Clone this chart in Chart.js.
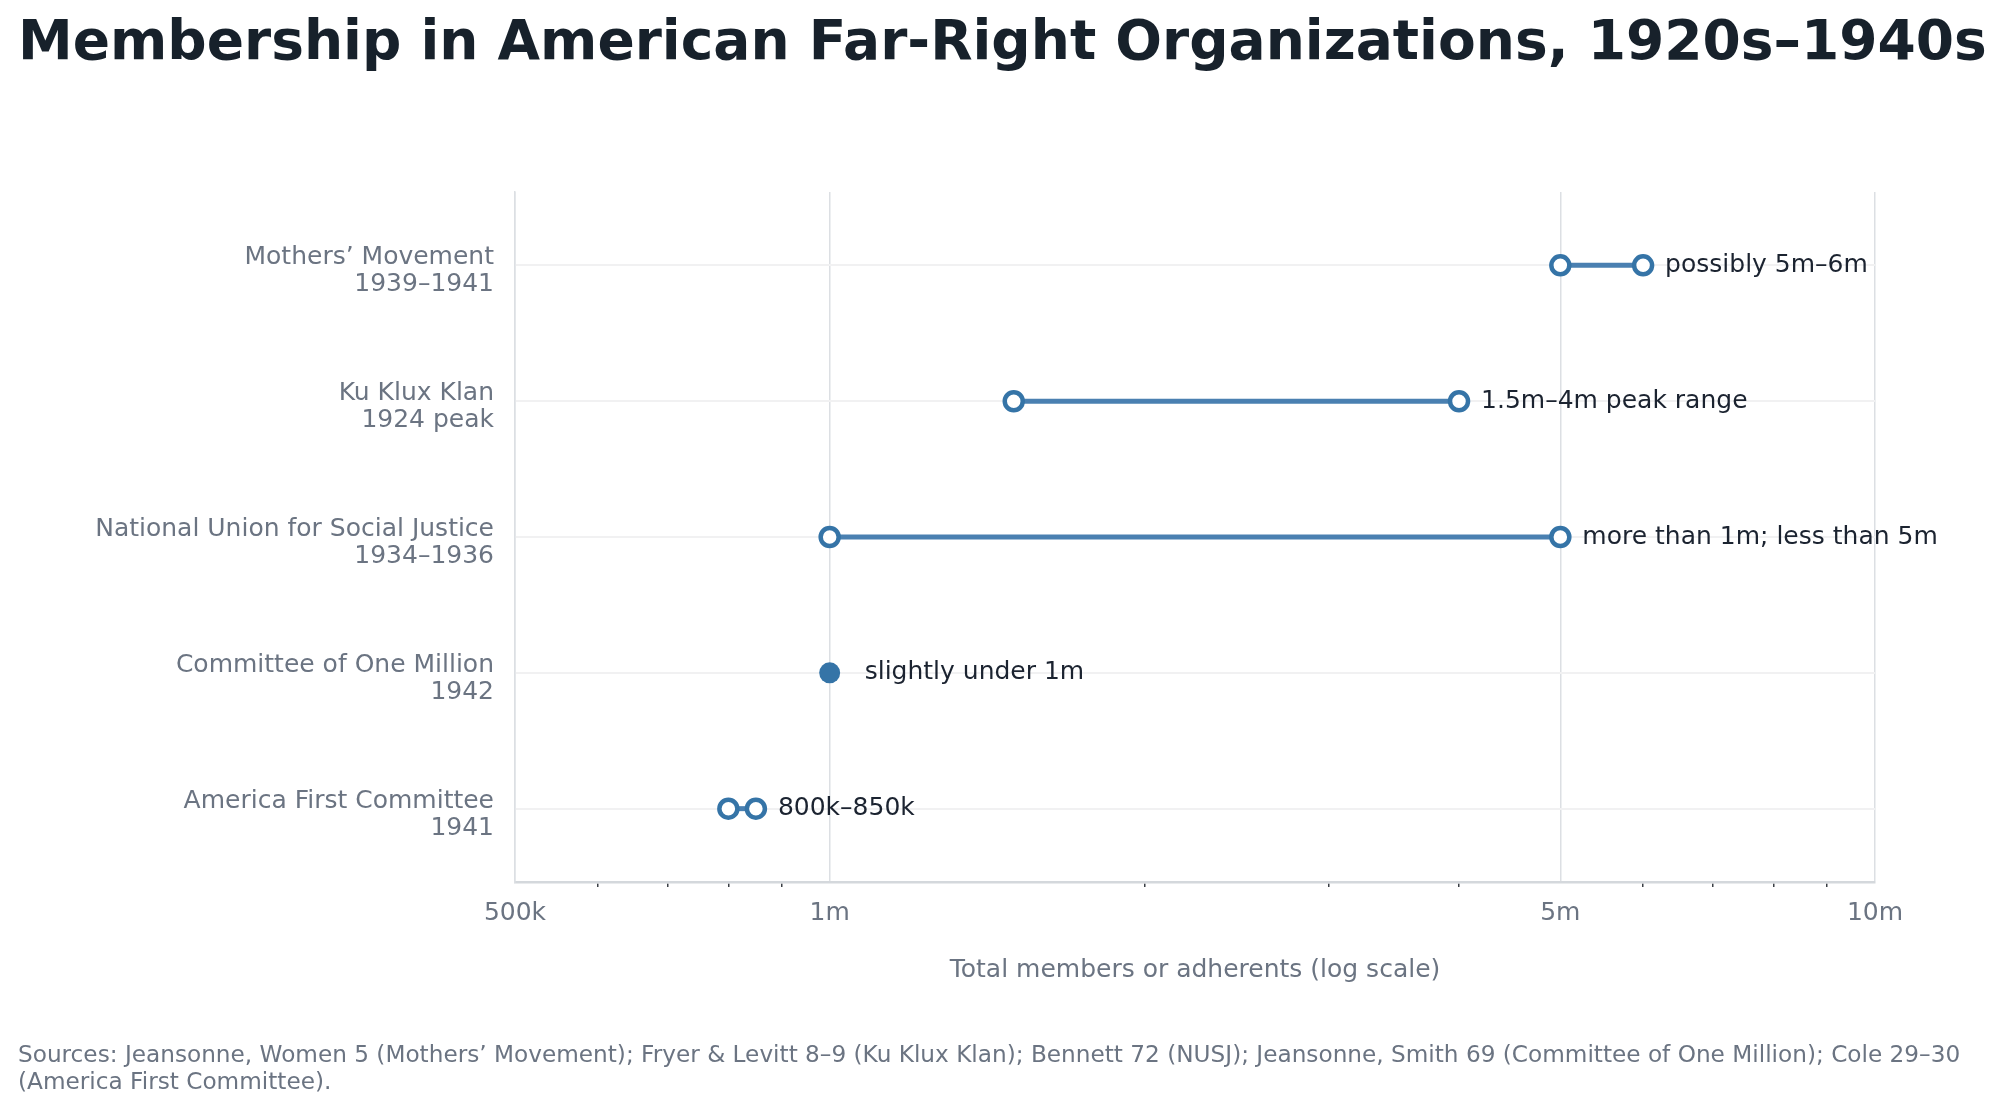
<!DOCTYPE html>
<html>
<head>
<meta charset="utf-8">
<script src="https://cdn.jsdelivr.net/npm/chart.js@4.4.1/dist/chart.umd.min.js"></script>
<style>
  html, body { margin: 0; padding: 0; background: #ffffff; }
  #wrap { width: 2005px; height: 1110px; }
</style>
</head>
<body>
<div id="wrap"><canvas id="chart" width="2005" height="1110"></canvas></div>
<script>
// Datos del gráfico
const categories = [
  ['Mothers’ Movement', '1939–1941'],
  ['Ku Klux Klan', '1924 peak'],
  ['National Union for Social Justice', '1934–1936'],
  ['Committee of One Million', '1942'],
  ['America First Committee', '1941']
];
const lowValues = [5000000, 1500000, 1000000, 1000000, 800000];
const highValues = [6000000, 4000000, 5000000, null, 850000];  // null = un solo valor
const rangeLabels = [
  'possibly 5m–6m',
  '1.5m–4m peak range',
  'more than 1m; less than 5m',
  'slightly under 1m',
  '800k–850k'
];
const majorTicks = [500000, 1000000, 5000000, 10000000];
const majorTickLabels = ['500k', '1m', '5m', '10m'];
const minorTicks = [600000, 700000, 800000, 900000, 2000000, 3000000, 4000000, 6000000, 7000000, 8000000, 9000000];
const sourceLines = [
  'Sources: Jeansonne, Women 5 (Mothers’ Movement); Fryer & Levitt 8–9 (Ku Klux Klan); Bennett 72 (NUSJ); Jeansonne, Smith 69 (Committee of One Million); Cole 29–30',
  '(America First Committee).'
];

const markerColor = '#3574a7';
const lineColor = '#4a80b1';
const gray = '#6b7482';
const dark = '#1b2330';

Chart.defaults.font.family = '"DejaVu Sans", sans-serif';

// Una serie por organización: extremo bajo y extremo alto
const datasets = categories.map((cat, i) => {
  const single = highValues[i] === null;
  const pts = single
    ? [{ x: lowValues[i], y: i }]
    : [{ x: lowValues[i], y: i }, { x: highValues[i], y: i }];
  return {
    data: pts,
    showLine: true,
    borderColor: lineColor,
    borderWidth: 5,
    pointRadius: single ? 10.5 : 9,
    pointBorderWidth: single ? 0 : 4.5,
    pointBackgroundColor: single ? markerColor : '#ffffff',
    pointBorderColor: markerColor,
    pointHoverRadius: single ? 10.5 : 9,
    clip: false
  };
});

// Etiquetas de texto a la derecha de cada rango
const rangeLabelPlugin = {
  id: 'rangeLabels',
  afterDatasetsDraw(chart) {
    const { ctx, scales: { x, y } } = chart;
    ctx.save();
    ctx.font = '25px "DejaVu Sans"';
    ctx.fillStyle = dark;
    ctx.textAlign = 'left';
    ctx.textBaseline = 'middle';
    rangeLabels.forEach((txt, i) => {
      const single = highValues[i] === null;
      const end = single ? lowValues[i] : highValues[i];
      ctx.fillText(txt, x.getPixelForValue(end) + (single ? 35 : 22), y.getPixelForValue(i));
    });
    ctx.restore();
  }
};

const config = {
  type: 'scatter',
  data: { datasets: datasets },
  plugins: [rangeLabelPlugin],
  options: {
    responsive: false,
    animation: false,
    devicePixelRatio: 1,
    layout: { padding: { left: 18, right: 0, top: 0, bottom: 0 } },
    plugins: {
      legend: { display: false },
      tooltip: { enabled: false },
      title: {
        display: true,
        text: 'Membership in American Far-Right Organizations, 1920s–1940s',
        align: 'start',
        color: '#17212b',
        font: { size: 55, weight: 'bold' },
        padding: { top: 12, bottom: 114 }
      },
      subtitle: {
        display: true,
        position: 'bottom',
        align: 'start',
        text: sourceLines,
        color: gray,
        font: { size: 23.2, lineHeight: '27px' },
        padding: { top: 13, bottom: 14 }
      }
    },
    scales: {
      x: {
        type: 'logarithmic',
        min: 500000,
        max: 10000000,
        afterBuildTicks: (scale) => {
          scale.ticks = majorTicks.concat(minorTicks).sort((a, b) => a - b).map(v => ({ value: v }));
        },
        afterFit: (scale) => { scale.height = 147; },
        ticks: {
          autoSkip: false,
          maxRotation: 0,
          color: gray,
          font: { size: 25 },
          padding: 11,
          callback: (v) => {
            const k = majorTicks.indexOf(v);
            return k >= 0 ? majorTickLabels[k] : '';
          }
        },
        grid: {
          color: (c) => majorTicks.includes(c.tick && c.tick.value) ? '#dcdfe3' : 'rgba(0,0,0,0)',
          lineWidth: 1.5,
          tickLength: 5,
          tickWidth: 1.5,
          tickColor: (c) => majorTicks.includes(c.tick && c.tick.value) ? 'rgba(0,0,0,0)' : '#3a3f45'
        },
        border: { color: '#d4d8dc', width: 2.5 },
        title: {
          display: true,
          text: 'Total members or adherents (log scale)',
          color: gray,
          font: { size: 25 },
          padding: { top: 0, bottom: 44 }
        }
      },
      y: {
        type: 'linear',
        min: -0.54,
        max: 4.54,
        reverse: true,
        afterBuildTicks: (scale) => {
          scale.ticks = categories.map((c, i) => ({ value: i }));
        },
        afterFit: (scale) => { scale.width = 497; },
        ticks: {
          autoSkip: false,
          color: gray,
          font: { size: 25, lineHeight: '27px' },
          padding: 21,
          labelOffset: 6,
          callback: (v) => categories[v]
        },
        grid: { color: '#f1f1f2', lineWidth: 2, drawTicks: false },
        border: { color: '#dcdfe3', width: 1.5 }
      },
      // eje vacío para dejar margen a la derecha del área del gráfico
      yRight: {
        type: 'linear',
        position: 'right',
        afterFit: (scale) => { scale.width = 130; },
        ticks: { display: false },
        grid: { display: false, drawTicks: false },
        border: { display: false }
      }
    }
  }
};

// Crear el gráfico
const ctx = document.getElementById('chart').getContext('2d');
new Chart(ctx, config);
</script>
</body>
</html>
